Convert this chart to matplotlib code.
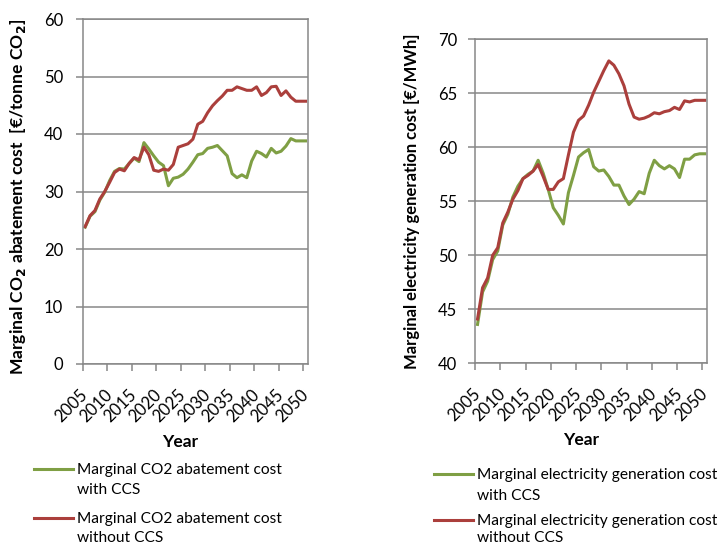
import matplotlib
matplotlib.use("Agg")
import matplotlib.pyplot as plt
from matplotlib.lines import Line2D
from matplotlib.ticker import FixedLocator, NullFormatter

years = list(range(2005, 2051))
label_years = [2005, 2010, 2015, 2020, 2025, 2030, 2035, 2040, 2045, 2050]

# marginal CO2 abatement cost [EUR/tonne CO2]
co2_with_ccs = [
    23.8, 25.7, 26.5, 28.5, 29.9, 31.9, 33.5, 34.0, 33.9, 34.9,
    35.8, 35.2, 38.5, 37.4, 36.2, 35.1, 34.5, 31.0, 32.3, 32.5,
    33.0, 33.9, 35.1, 36.4, 36.6, 37.5, 37.7, 38.0, 37.1, 36.2,
    33.1, 32.4, 32.9, 32.4, 35.3, 37.0, 36.6, 36.0, 37.5, 36.7,
    37.0, 37.9, 39.2, 38.8, 38.8, 38.8,
]
co2_without_ccs = [
    23.9, 25.8, 26.7, 28.7, 30.0, 31.6, 33.3, 33.9, 33.6, 34.9,
    35.9, 35.5, 37.7, 36.4, 33.7, 33.5, 33.9, 33.7, 34.7, 37.7,
    38.0, 38.3, 39.1, 41.7, 42.2, 43.7, 44.9, 45.8, 46.6, 47.6,
    47.6, 48.2, 47.9, 47.6, 47.6, 48.2, 46.7, 47.2, 48.2, 48.3,
    46.7, 47.5, 46.4, 45.7, 45.7, 45.7,
]

# marginal electricity generation cost [EUR/MWh]
elec_with_ccs = [
    43.6, 46.6, 47.6, 49.6, 50.4, 52.8, 53.8, 55.4, 56.4, 57.1,
    57.5, 57.8, 58.8, 57.6, 56.1, 54.4, 53.7, 52.9, 55.8, 57.4,
    59.1, 59.5, 59.8, 58.2, 57.8, 57.9, 57.3, 56.5, 56.5, 55.5,
    54.7, 55.2, 55.9, 55.7, 57.6, 58.8, 58.3, 58.0, 58.3, 58.0,
    57.2, 58.9, 58.9, 59.3, 59.4, 59.4,
]
elec_without_ccs = [
    44.1, 47.0, 47.9, 50.0, 50.7, 53.0, 54.0, 55.2, 56.0, 57.1,
    57.4, 57.8, 58.4, 57.3, 56.1, 56.1, 56.8, 57.1, 59.3, 61.4,
    62.5, 62.9, 63.9, 65.1, 66.1, 67.1, 68.0, 67.6, 66.8, 65.7,
    64.0, 62.8, 62.6, 62.7, 62.9, 63.2, 63.1, 63.3, 63.4, 63.7,
    63.5, 64.3, 64.2, 64.35, 64.35, 64.35,
]

GREEN = "#7f9f44"
RED = "#ab3f3c"
GRID = "#878787"
W, H = 723, 547

plt.rcParams["font.family"] = ["Lato", "DejaVu Sans"]
plt.rcParams["mathtext.default"] = "bf"

fig = plt.figure(figsize=(W / 100, H / 100), dpi=100)
ax1 = fig.add_axes([82.7 / W, 1 - 364 / H, 225.3 / W, 345 / H])
ax2 = fig.add_axes([475 / W, 1 - 363.3 / H, 232.3 / W, 324 / H])


def px_legend(lines, x0, rows):
    """Excel-like legend, drawn in figure pixels: handle on the first text line."""
    for (color, y_handle), text_rows in zip(lines, rows):
        fig.add_artist(Line2D([x0 / W, (x0 + 39) / W],
                              [1 - y_handle / H, 1 - y_handle / H],
                              color=color, lw=2.2))
        for txt, y in text_rows:
            fig.text((x0 + 43) / W, 1 - y / H, txt, fontsize=11.2,
                     ha="left", va="center")


def draw_panel(ax, with_vals, without_vals, ylim, ystep, ylabel, ylab_size,
               ylab_xy, xlab_xy, ypad):
    ax.plot(years, with_vals, color=GREEN, lw=2.2, solid_joinstyle="round")
    ax.plot(years, without_vals, color=RED, lw=2.2, solid_joinstyle="round")

    ax.set_xlim(years[0] - 0.5, years[-1] + 0.5)
    ax.set_ylim(*ylim)
    ax.set_yticks(range(ylim[0], ylim[1] + 1, ystep))
    ax.yaxis.grid(True, color=GRID, lw=1.1)
    ax.set_axisbelow(True)

    # tick marks between categories, labels on the categories
    ax.xaxis.set_major_locator(FixedLocator([y - 0.5 for y in label_years]))
    ax.xaxis.set_major_formatter(NullFormatter())
    ax.xaxis.set_minor_locator(FixedLocator(label_years))
    ax.set_xticklabels([str(y) for y in label_years], minor=True,
                       rotation=45, ha="right", va="center",
                       rotation_mode="anchor")
    ax.tick_params(axis="x", which="major", length=5, color=GRID, width=1.1)
    ax.tick_params(axis="x", which="minor", length=0, pad=20, labelsize=12)
    ax.tick_params(axis="y", length=5, color=GRID, width=1.1, labelsize=12,
                   pad=ypad)

    for s in ax.spines.values():
        s.set_color(GRID)
        s.set_linewidth(1.1)

    ax.set_xlabel("Year", fontsize=12.5, fontweight="bold", va="center")
    ax.xaxis.set_label_coords(*xlab_xy)
    ax.set_ylabel(ylabel, fontsize=ylab_size, fontweight="bold", va="center")
    ax.yaxis.set_label_coords(*ylab_xy)


draw_panel(ax1, co2_with_ccs, co2_without_ccs, (0, 60), 10,
           r"Marginal CO$_2$ abatement cost  [€/tonne CO$_2$]", 12.6,
           (-0.285, 0.483), (0.432, -0.226), 9)

draw_panel(ax2, elec_with_ccs, elec_without_ccs, (40, 70), 5,
           "Marginal electricity generation cost [€/MWh]", 12.0,
           (-0.273, 0.5), (0.456, -0.237), 8)

px_legend([(GREEN, 468.5), (RED, 517.5)], 34,
          [[("Marginal CO2 abatement cost", 470), ("with CCS", 490.5)],
           [("Marginal CO2 abatement cost", 518.5), ("without CCS", 537.5)]])

px_legend([(GREEN, 473.5), (RED, 519.5)], 434,
          [[("Marginal electricity generation cost", 475), ("with CCS", 496)],
           [("Marginal electricity generation cost", 521), ("without CCS", 538.5)]])

fig.savefig("out.png", dpi=100)
